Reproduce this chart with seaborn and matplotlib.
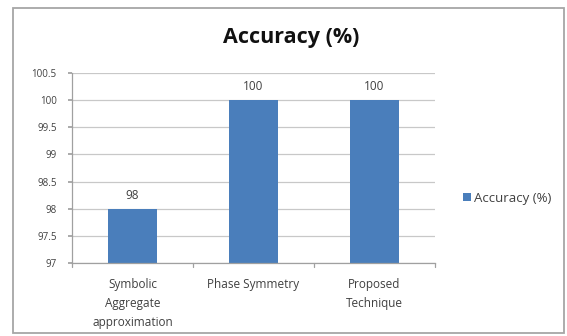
import matplotlib
matplotlib.use("Agg")
import matplotlib.pyplot as plt
import seaborn as sns
import pandas as pd
from matplotlib.patches import Rectangle

categories = ["Symbolic\nAggregate\napproximation", "Phase Symmetry", "Proposed\nTechnique"]
accuracy = [98, 100, 100]
series_name = "Accuracy (%)"
y_ticks = [97, 97.5, 98, 98.5, 99, 99.5, 100, 100.5]

sns.set_theme(style="white")
plt.rcParams['font.family'] = ['Open Sans', 'DejaVu Sans']

df = pd.DataFrame({"category": categories, "value": accuracy, "series": series_name})

W, H = 567, 336
fig = plt.figure(figsize=(W / 100, H / 100), dpi=100)
fig.patch.set_facecolor("white")
# outer chart frame
fig.add_artist(Rectangle((13 / W, 1 - 333 / H), 551 / W, 325 / H,
                         transform=fig.transFigure, fill=False,
                         edgecolor="#a6a6a6", linewidth=1.3))

ax = fig.add_axes([72 / W, 1 - 263 / H, 363 / W, 190 / H])
sns.barplot(data=df, x="category", y="value", hue="series", ax=ax,
            palette=["#4A7EBB"], width=0.4, saturation=1, legend=True,
            linewidth=0)

# bars start from the axis floor
ax.set_ylim(97, 100.5)
for bar, v in zip(ax.patches, accuracy):
    bar.set_y(97)
    bar.set_height(v - 97)
    ax.text(bar.get_x() + bar.get_width() / 2, v + 0.13, f"{v:g}",
            ha="center", va="bottom", fontsize=8.5, color="#404040")

ax.set_yticks(y_ticks)
ax.set_yticklabels([f"{t:g}" for t in y_ticks], fontsize=7, color="#404040")
ax.yaxis.grid(True, color="#c8c8c8", linewidth=0.9)
ax.set_axisbelow(True)
ax.set_xlabel("")
ax.set_ylabel("")
ax.set_xlim(-0.5, 2.5)
ax.tick_params(axis="x", labelsize=8.5, colors="#404040", length=0, pad=11)
ax.tick_params(axis="y", left=True, length=3, color="#a0a0a0", pad=8)
for side in ["top", "right"]:
    ax.spines[side].set_visible(False)
for side in ["left", "bottom"]:
    ax.spines[side].set_color("#a0a0a0")
    ax.spines[side].set_linewidth(0.9)
for lbl in ax.get_xticklabels():
    lbl.set_color("#404040")
    lbl.set_linespacing(1.6)

# category separators on the x axis
for xb in [-0.5, 0.5, 1.5, 2.5]:
    ax.plot([xb, xb], [97, 96.93], color="#a0a0a0", linewidth=0.9,
            clip_on=False)

leg = ax.legend(loc="center left", bbox_to_anchor=(1.06, 0.34), frameon=False,
                fontsize=9.5, handlelength=0.55, handleheight=0.55,
                handletextpad=0.25, borderpad=0)
for t in leg.get_texts():
    t.set_color("#404040")

fig.text(291 / W, 1 - 38 / H, "Accuracy (%)", ha="center", va="center",
         fontsize=15.5, fontweight="bold", color="#111111")

fig.savefig("out.png", dpi=100)
